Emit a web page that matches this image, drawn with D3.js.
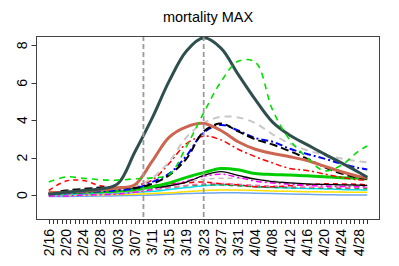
<!DOCTYPE html>
<html>
<head>
  <script src="https://cdn.jsdelivr.net/npm/d3@7"></script>
  <style>
    body { margin: 0; background: #fff; font-family: "Liberation Sans", Arial, sans-serif; }
  </style>
</head>
<body>
  <div id="chart"></div>
  <script>
    // sample dates (every 4 days, plus last day)
    const dates = ["2020-02-16","2020-02-20","2020-02-24","2020-02-28","2020-03-03","2020-03-07","2020-03-11",
      "2020-03-15","2020-03-19","2020-03-23","2020-03-27","2020-03-31","2020-04-04","2020-04-08","2020-04-12",
      "2020-04-16","2020-04-20","2020-04-24","2020-04-28","2020-04-30"];
    const tickLabels = ["2/16","2/20","2/24","2/28","3/03","3/07","3/11","3/15","3/19","3/23","3/27","3/31",
      "4/04","4/08","4/12","4/16","4/20","4/24","4/28"];
    const yTicks = [0, 2, 4, 6, 8];
    const markerDates = ["2020-03-09", "2020-03-23"];

    // series values
    const lightBlue = [-0.08,-0.07,-0.06,-0.05,-0.04,-0.02,0,0.04,0.08,0.1,0.12,0.12,0.1,0.08,0.06,0.04,0.02,0.01,0,0];
    const yellow = [-0.02,0,0.01,0.02,0.03,0.05,0.08,0.12,0.18,0.25,0.27,0.27,0.25,0.22,0.2,0.18,0.17,0.16,0.15,0.15];
    const cyan = [0,0.02,0.05,0.08,0.1,0.15,0.2,0.3,0.4,0.5,0.55,0.52,0.45,0.4,0.38,0.35,0.33,0.3,0.28,0.27];
    const darkGreenDash = [0.05,0.1,0.12,0.15,0.18,0.22,0.3,0.4,0.5,0.55,0.55,0.5,0.45,0.42,0.4,0.4,0.38,0.37,0.36,0.35];
    const pinkDash = [0,0.05,0.08,0.1,0.12,0.18,0.28,0.4,0.52,0.6,0.62,0.58,0.52,0.48,0.45,0.42,0.42,0.4,0.4,0.4];
    const greyLow = [0.05,0.08,0.1,0.12,0.15,0.2,0.3,0.5,0.7,0.85,0.9,0.9,0.85,0.75,0.65,0.6,0.55,0.5,0.5,0.5];
    const redDash = [0.25,0.75,0.78,0.5,0.42,0.45,0.5,0.6,0.65,0.7,0.6,0.55,0.45,0.45,0.5,0.55,0.6,0.6,0.58,0.55];
    const magenta = [-0.05,-0.05,0,0.02,0.05,0.15,0.3,0.5,0.75,1.0,1.12,0.95,0.75,0.65,0.58,0.52,0.48,0.46,0.45,0.44];
    const blackThin = [0.08,0.15,0.22,0.3,0.35,0.35,0.4,0.5,0.7,1.05,1.25,1.05,0.85,0.72,0.65,0.6,0.57,0.55,0.53,0.52];
    const greenThick = [0.08,0.12,0.15,0.18,0.22,0.3,0.45,0.65,0.95,1.2,1.42,1.35,1.15,1.1,1.07,1.03,0.98,0.93,0.9,0.88];
    const redDotDash = [0.1,0.15,0.2,0.25,0.3,0.5,0.8,1.7,2.75,3.15,2.95,2.45,2.05,1.72,1.42,1.32,1.13,0.95,0.82,0.8];
    const greyDash = [0.1,0.15,0.2,0.25,0.3,0.45,0.9,1.8,3.1,3.85,4.18,4.15,3.85,3.25,2.75,2.4,2.15,1.95,1.8,1.75];
    const blueDotDash = [0.05,0.1,0.15,0.2,0.25,0.35,0.7,1.15,2.1,3.35,3.75,3.45,3.05,2.85,2.48,2.2,1.95,1.68,1.45,1.37];
    const blackDash = [0.1,0.25,0.33,0.4,0.42,0.38,0.6,1.07,1.95,3.4,3.82,3.4,2.98,2.7,2.35,1.95,1.5,1.15,0.93,0.88];
    const brown = [0.15,0.15,0.2,0.28,0.38,0.55,1.8,3.1,3.65,3.83,3.45,2.85,2.45,2.22,2.05,1.85,1.55,1.25,1.0,0.92];
    const darkSlate = [0.05,0.15,0.25,0.33,0.6,2.3,4.1,6.1,7.7,8.4,7.85,6.45,5.1,3.9,3.2,2.7,2.2,1.72,1.22,0.95];
    const lime = [0.7,0.97,0.9,0.82,0.8,0.87,0.92,1.1,2.6,4.4,6.05,7.15,7.1,4.55,2.95,2.0,1.3,1.6,2.35,2.62];

    const series = [
      { values: lightBlue, color: "#6ca6f0", width: 1.5, dash: null },
      { values: yellow, color: "#ffe000", width: 1.5, dash: null },
      { values: cyan, color: "#00dde8", width: 1.5, dash: null },
      { values: darkGreenDash, color: "#228b22", width: 1.5, dash: "5,4" },
      { values: pinkDash, color: "#ff69b4", width: 1.5, dash: "5,4" },
      { values: greyLow, color: "#bebebe", width: 1.5, dash: "5,4" },
      { values: redDash, color: "#ff0000", width: 1.5, dash: "5,4" },
      { values: magenta, color: "#ff00ff", width: 1.5, dash: "6,3,2,3" },
      { values: blackThin, color: "#000000", width: 1.3, dash: null },
      { values: greenThick, color: "#00cd00", width: 3, dash: null },
      { values: redDotDash, color: "#ff0000", width: 1.5, dash: "6,3,2,3" },
      { values: greyDash, color: "#c8c8c8", width: 2, dash: "7,5" },
      { values: blueDotDash, color: "#0000ff", width: 2, dash: "7,3,2,3" },
      { values: blackDash, color: "#000000", width: 2, dash: "8,4" },
      { values: brown, color: "#cd6650", width: 3, dash: null },
      { values: darkSlate, color: "#2f4f4f", width: 3, dash: null },
      { values: lime, color: "#00e000", width: 1.6, dash: "6,5" }
    ];

    const width = 399, height = 266;
    const box = { left: 36, right: 380, top: 36, bottom: 220 };
    const parse = d3.timeParse("%Y-%m-%d");
    const parseLabel = d3.timeParse("%m/%d/%Y");
    const dateObjs = dates.map(parse);

    // R style 4% padding on x
    const span = box.right - box.left;
    const pad = span * 0.04 / 1.08;
    const x = d3.scaleTime()
      .domain(d3.extent(dateObjs))
      .range([box.left + pad, box.right - pad]);
    const y = d3.scaleLinear().domain([-1.33, 8.5]).range([box.bottom, box.top]);

    const svg = d3.select("#chart").append("svg")
      .attr("width", width)
      .attr("height", height);

    const line = d3.line()
      .x((d, i) => x(dateObjs[i]))
      .y(d => y(d))
      .curve(d3.curveCatmullRom.alpha(0.5));

    const clip = svg.append("clipPath").attr("id", "clip")
      .append("rect")
      .attr("x", box.left).attr("y", box.top)
      .attr("width", span).attr("height", box.bottom - box.top);

    const plot = svg.append("g").attr("clip-path", "url(#clip)");

    plot.selectAll("path.series")
      .data(series)
      .join("path")
      .attr("class", "series")
      .attr("fill", "none")
      .attr("stroke", d => d.color)
      .attr("stroke-width", d => d.width)
      .attr("stroke-dasharray", d => d.dash)
      .attr("stroke-linecap", "butt")
      .attr("d", d => line(d.values));

    // vertical markers
    plot.selectAll("line.marker")
      .data(markerDates.map(parse))
      .join("line")
      .attr("x1", d => x(d)).attr("x2", d => x(d))
      .attr("y1", box.top).attr("y2", box.bottom)
      .attr("stroke", "#9a9a9a")
      .attr("stroke-width", 1.8)
      .attr("stroke-dasharray", "5,3");

    // box
    svg.append("rect")
      .attr("x", box.left + 0.5).attr("y", box.top + 0.5)
      .attr("width", span - 1).attr("height", box.bottom - box.top - 1)
      .attr("fill", "none")
      .attr("stroke", "#444")
      .attr("stroke-width", 1);

    // x axis: daily ticks, labels every 4 days
    const days = d3.timeDay.range(dateObjs[0], d3.timeDay.offset(dateObjs[dateObjs.length - 1], 1));
    svg.append("g")
      .selectAll("line")
      .data(days)
      .join("line")
      .attr("x1", d => Math.round(x(d)) + 0.5).attr("x2", d => Math.round(x(d)) + 0.5)
      .attr("y1", box.bottom).attr("y2", box.bottom + 4)
      .attr("stroke", "#333");

    svg.append("g")
      .style("font", "14px 'Liberation Sans', Arial, sans-serif")
      .selectAll("text")
      .data(tickLabels)
      .join("text")
      .attr("transform", d => `translate(${x(parseLabel(d + "/2020"))},${box.bottom + 9}) rotate(-90)`)
      .attr("text-anchor", "end")
      .attr("dy", "0.35em")
      .attr("fill", "#000")
      .text(d => d);

    // y axis
    const yg = svg.append("g");
    yg.selectAll("line")
      .data(yTicks)
      .join("line")
      .attr("x1", box.left - 4.5).attr("x2", box.left)
      .attr("y1", d => Math.round(y(d)) + 0.5).attr("y2", d => Math.round(y(d)) + 0.5)
      .attr("stroke", "#333");
    yg.selectAll("text")
      .data(yTicks)
      .join("text")
      .attr("transform", d => `translate(${box.left - 9},${y(d)}) rotate(-90)`)
      .attr("text-anchor", "middle")
      .style("font", "14px 'Liberation Sans', Arial, sans-serif")
      .text(d => d);

    svg.append("text")
      .attr("x", (box.left + box.right) / 2)
      .attr("y", 22)
      .attr("text-anchor", "middle")
      .style("font", "14.5px 'Liberation Sans', Arial, sans-serif")
      .text("mortality MAX");
  </script>
</body>
</html>
